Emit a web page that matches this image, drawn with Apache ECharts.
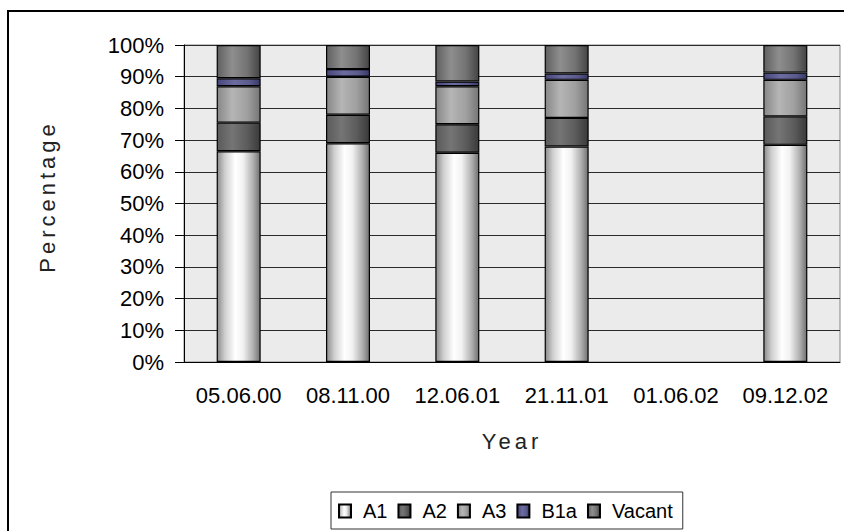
<!DOCTYPE html>
<html>
<head>
<meta charset="utf-8">
<script src="https://cdn.jsdelivr.net/npm/echarts@6/dist/echarts.min.js"></script>
<style>
  html, body { margin: 0; padding: 0; background: #ffffff; }
  #chart { width: 844px; height: 531px; }
</style>
</head>
<body>
<div id="chart"></div>
<script>
// Survey dates (x categories)
const years = ['05.06.00', '08.11.00', '12.06.01', '21.11.01', '01.06.02', '09.12.02'];

// Share of each class per survey, in percent (01.06.02 has no survey)
const a1     = [66.5, 69.0, 66.0, 68.0, null, 68.5];
const a2     = [9.0,  9.0,  9.0,  9.0,  null, 9.0];
const a3     = [11.5, 12.0, 12.0, 12.0, null, 11.5];
const b1a    = [2.5,  2.4,  1.5,  2.0,  null, 2.3];
const vacant = [10.5, 7.6,  11.5, 9.0,  null, 8.7];

const yTicks = { min: 0, max: 100, interval: 10 };

// Horizontal "cylinder" shading for each class
function cyl(stops) {
  return new echarts.graphic.LinearGradient(0, 0, 1, 0,
    stops.map(s => ({ offset: s[0], color: s[1] })));
}
const fills = {
  A1:     cyl([[0, '#8c8c8c'], [0.18, '#cfcfcf'], [0.42, '#ffffff'], [0.6, '#f2f2f2'], [0.85, '#ababab'], [1, '#707070']]),
  A2:     cyl([[0, '#5a5a5a'], [0.35, '#757575'], [0.7, '#5c5c5c'], [1, '#3a3a3a']]),
  A3:     cyl([[0, '#878787'], [0.35, '#b5b5b5'], [0.7, '#a0a0a0'], [1, '#767676']]),
  B1a:    cyl([[0, '#46467a'], [0.4, '#6c6ca0'], [0.75, '#5a5a8c'], [1, '#38386a']]),
  Vacant: cyl([[0, '#606060'], [0.35, '#8e8e8e'], [0.7, '#737373'], [1, '#444444']])
};

function bar(name, data) {
  return {
    name: name,
    type: 'bar',
    stack: 'total',
    barWidth: 44,
    data: data,
    itemStyle: { color: fills[name], borderColor: '#000000', borderWidth: 1.2 }
  };
}

const chart = echarts.init(document.getElementById('chart'), null, { renderer: 'svg' });
const font = "'Liberation Sans', Arial, sans-serif";

chart.setOption({
  animation: false,
  textStyle: { fontFamily: font, color: '#000' },
  grid: {
    left: 184, right: 4, top: 45, bottom: 169,
    show: true, backgroundColor: '#ebebeb', borderColor: '#858585', borderWidth: 1
  },
  graphic: [{
    type: 'rect',
    shape: { x: 8, y: 11, width: 1200, height: 1200 },
    style: { fill: 'none', stroke: '#000', lineWidth: 2 },
    silent: true
  }],
  legend: {
    bottom: 2,
    left: 331,
    icon: 'rect',
    itemWidth: 12,
    itemHeight: 13,
    itemGap: 10,
    padding: [9, 10, 8, 7],
    borderColor: '#333',
    borderWidth: 1,
    textStyle: { fontFamily: font, fontSize: 20, color: '#000', padding: [0, 0, 0, 7] },
    data: ['A1', 'A2', 'A3', 'B1a', 'Vacant']
  },
  xAxis: {
    type: 'category',
    data: years,
    name: 'Year',
    nameLocation: 'middle',
    nameGap: 68,
    nameTextStyle: { fontFamily: font, fontSize: 22, color: '#222' },
    axisLine: { lineStyle: { color: '#000', width: 1 } },
    axisTick: { length: 8, lineStyle: { color: '#000' } },
    axisLabel: { interval: 0, fontFamily: font, fontSize: 22, color: '#000', margin: 22 },
    splitLine: { show: false }
  },
  yAxis: {
    type: 'value',
    min: yTicks.min,
    max: yTicks.max,
    interval: yTicks.interval,
    name: 'Percentage',
    nameLocation: 'middle',
    nameRotate: 90,
    nameGap: 126,
    nameTextStyle: { fontFamily: font, fontSize: 22, color: '#222', padding: [0, 0, 0, 14] },
    axisLine: { show: true, lineStyle: { color: '#000', width: 1 } },
    axisTick: { show: true, length: 9, lineStyle: { color: '#000' } },
    axisLabel: { fontFamily: font, fontSize: 22, color: '#000', margin: 20, formatter: '{value}%' },
    splitLine: { lineStyle: { color: '#2a2a2a', width: 1 } }
  },
  series: [
    bar('A1', a1),
    bar('A2', a2),
    bar('A3', a3),
    bar('B1a', b1a),
    bar('Vacant', vacant)
  ]
});

// Axis titles are set in a spaced-out style
document.querySelectorAll('#chart svg text').forEach(t => {
  const s = t.textContent;
  if (s === 'Percentage' || s === 'Year') t.style.letterSpacing = '4px';
});
</script>
</body>
</html>
